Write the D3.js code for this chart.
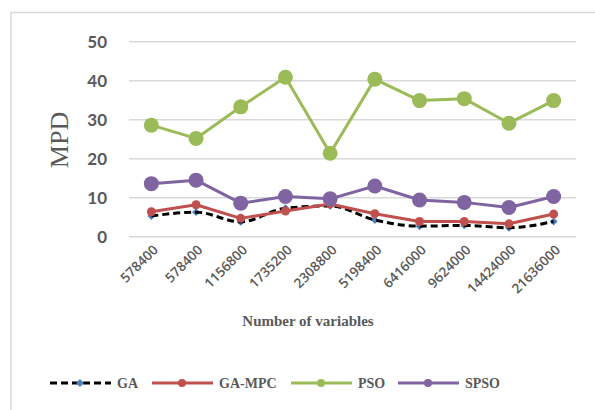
<!DOCTYPE html>
<html><head><meta charset="utf-8">
<script src="https://cdn.jsdelivr.net/npm/d3@7"></script>
<style>body{margin:0;background:#fff}svg{display:block}</style>
</head><body><svg id="c" width="595" height="410"></svg>
<script>
const categories = ["578400","578400","1156800","1735200","2308800","5198400","6416000","9624000","14424000","21636000"];
const GA     = [5.3, 6.3, 3.8, 7.3, 7.9, 4.3, 2.7, 2.9, 2.3, 3.9];
const GA_MPC = [6.4, 8.2, 4.7, 6.6, 8.4, 5.9, 3.9, 3.9, 3.3, 5.8];
const PSO    = [28.6, 25.2, 33.3, 40.9, 21.4, 40.4, 34.9, 35.4, 29.1, 34.9];
const SPSO   = [13.6, 14.5, 8.6, 10.3, 9.7, 13.0, 9.4, 8.8, 7.5, 10.3];
const yTicks = [0, 10, 20, 30, 40, 50];

const svg = d3.select("#c");
const grey = "#595959";

// outer frame
svg.append("rect").attr("x",11).attr("y",12.5).attr("width",620).attr("height",420)
  .attr("fill","none").attr("stroke","#d9d9d9").attr("stroke-width",1.5);

const x = d3.scalePoint().domain(d3.range(categories.length)).range([129,576]).padding(0.5);
const y = d3.scaleLinear().domain([0,50]).range([236.7,41.7]);

// gridlines
svg.append("g").selectAll("line").data(yTicks).join("line")
  .attr("x1",129).attr("x2",576).attr("y1",d=>y(d)).attr("y2",d=>y(d))
  .attr("stroke","#d9d9d9").attr("stroke-width",1.5);

// y axis labels
const yAxis = d3.axisLeft(y).tickValues(yTicks).tickSize(0).tickPadding(0);
const ya = svg.append("g").attr("transform","translate(107,0)").call(yAxis);
ya.select(".domain").remove();
ya.selectAll("text").attr("fill",grey).style("font-family","Lato, 'Open Sans', sans-serif")
  .style("font-weight","bold").style("font-size","17px").attr("dy","0.36em");

// x axis labels
const xAxis = d3.axisBottom(x).tickFormat(i=>categories[i]).tickSize(0).tickPadding(0);
const xa = svg.append("g").attr("transform","translate(0,236.7)").call(xAxis);
xa.select(".domain").remove();
xa.selectAll("text").attr("fill",grey).style("font-family","'Open Sans', sans-serif")
  .style("font-size","13.5px").style("font-weight","600").attr("text-anchor","end").attr("dy",0).attr("y",0)
  .attr("transform","translate(7,14) rotate(-45)");

// axis titles
svg.append("text").attr("transform","translate(68,140) rotate(-90)").attr("text-anchor","middle")
  .attr("fill",grey).style("font-family","'Liberation Serif', serif").style("font-size","26px").text("MPD");
svg.append("text").attr("x",308).attr("y",326).attr("text-anchor","middle")
  .attr("fill",grey).style("font-family","'Liberation Serif', serif").style("font-weight","bold")
  .style("font-size","15px").text("Number of variables");

const series = [
  {name:"GA", data:GA, color:"#000", dash:"7,4", marker:"diamond", mcolor:"#4F81BD", r:4.5, lr:4.5, curve:d3.curveMonotoneX},
  {name:"GA-MPC", data:GA_MPC, color:"#C0504D", dash:null, marker:"circle", mcolor:"#C0504D", r:4.5, lr:4, curve:d3.curveLinear},
  {name:"PSO", data:PSO, color:"#9BBB59", dash:null, marker:"circle", mcolor:"#9BBB59", r:7.5, lr:4, curve:d3.curveLinear},
  {name:"SPSO", data:SPSO, color:"#8064A2", dash:null, marker:"circle", mcolor:"#8064A2", r:7.5, lr:4, curve:d3.curveLinear}
];

series.forEach(s=>{
  const line = d3.line().x((d,i)=>x(i)).y(d=>y(d)).curve(s.curve);
  const g = svg.append("g");
  if (s.marker==="diamond") {
    g.selectAll("path.m").data(s.data).join("path").attr("class","m")
      .attr("d",d3.symbol(d3.symbolDiamond2,40)())
      .attr("transform",(d,i)=>`translate(${x(i)},${y(d)})`).attr("fill",s.mcolor);
  }
  g.append("path").attr("d",line(s.data)).attr("fill","none").attr("stroke",s.color)
    .attr("stroke-width",3).attr("stroke-dasharray",s.dash).attr("stroke-linejoin","round");
  if (s.marker==="circle") {
    g.selectAll("circle").data(s.data).join("circle")
      .attr("cx",(d,i)=>x(i)).attr("cy",d=>y(d)).attr("r",s.r).attr("fill",s.mcolor);
  }
});

// legend
const legX = [50,152,291,398];
const lg = svg.append("g");
series.forEach((s,k)=>{
  const x0 = legX[k], yy = 383;
  lg.append("line").attr("x1",x0).attr("x2",x0+61).attr("y1",yy).attr("y2",yy)
    .attr("stroke",s.color).attr("stroke-width",3).attr("stroke-dasharray",s.dash);
  if (s.marker==="diamond") {
    lg.append("path").attr("d",d3.symbol(d3.symbolDiamond2,40)()).attr("transform",`translate(${x0+30},${yy})`).attr("fill",s.mcolor);
  } else {
    lg.append("circle").attr("cx",x0+30).attr("cy",yy).attr("r",s.lr).attr("fill",s.mcolor);
  }
  lg.append("text").attr("x",x0+67).attr("y",yy+5).attr("fill",grey)
    .style("font-family","'Liberation Serif', serif").style("font-weight","bold").style("font-size","14px").text(s.name);
});
</script></body></html>
